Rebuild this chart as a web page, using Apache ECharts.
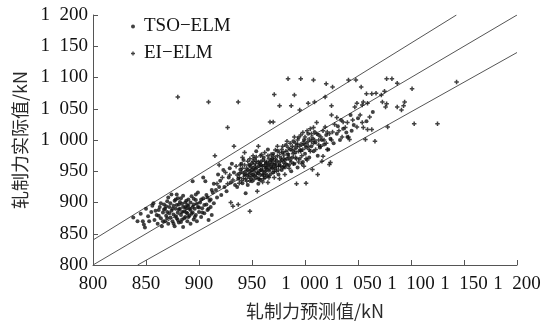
<!DOCTYPE html>
<html>
<head>
<meta charset="utf-8">
<script src="https://cdn.jsdelivr.net/npm/echarts@6/dist/echarts.min.js"></script>
<style>
  html, body { margin: 0; padding: 0; background: #fff; }
  #chart { width: 547px; height: 325px; }
</style>
</head>
<body>
<div id="chart"></div>
<script>
// [predicted, actual] rolling force, kN
const tsoPoints = [
  [838,876],[842,870],[845,882],[847,870],[848,865],[849,860],[850,890],[852,878],[853,870],[855,885],
  [856,895],[857,899],[858,872],[860,880],[861,866],[862,888],[863,893],[864,875],[865,862],[866,884],
  [867,897],[868,870],[868,890],[869,879],[870,885],[870,902],[871,866],[872,893],[873,876],[874,913],
  [874,887],[875,870],[876,895],[876,881],[877,862],[878,890],[878,905],[879,913],[879,875],[880,884],
  [881,897],[881,868],[882,890],[883,880],[883,907],[884,873],[885,893],[885,861],[886,886],[887,900],
  [887,877],[888,891],[889,870],[889,883],[890,905],[890,895],[891,879],[892,888],[892,866],[893,910],
  [894,934],[894,884],[895,897],[895,873],[896,890],[897,904],[897,880],[898,870],[899,893],[899,916],
  [900,885],[901,900],[902,877],[903,891],[904,940],[904,907],[905,883],[906,934],[907,897],[908,908],
  [908,888],[909,872],[910,903],[911,893],[912,880],[913,916],[914,899],
  [859,887],[862,879],[864,899],[866,870],[867,889],[869,894],[870,875],[871,908],[872,883],[873,899],
  [875,890],[876,866],[877,903],[878,878],[879,896],[880,907],[880,872],[881,889],[882,901],[883,869],
  [884,885],[884,898],[885,911],[886,875],[887,893],[888,884],[888,903],[889,896],[890,877],[891,890],
  [892,900],[893,882],[894,893],[895,906],[896,877],[897,913],[898,898],[900,892],[902,905],[903,884],
  [905,896],[907,912],[909,890],[911,905],[912,920],[914,930],[917,908],[919,925],
  [916,920],[918,945],[920,935],[921,912],[923,952],[924,925],[926,918],[928,940],[929,955],[930,932],
  [931,962],[933,948],[934,928],[936,925],[937,938],[938,946],[939,953],[940,962],[941,931],[942,968],
  [943,944],[944,950],[944,915],[946,928],[947,941],[948,951],[949,957],[950,963],[950,934],[951,945],
  [952,970],[953,954],[954,940],[954,982],[956,930],[956,947],[957,959],[958,936],[958,965],[959,953],
  [960,944],[961,972],[962,950],[962,940],[963,962],[964,956],[965,985],[966,943],[966,951],[967,964],
  [968,958],[969,970],[970,948],[970,978],[971,961],[972,955],[973,967],[974,983],[975,945],[976,960],
  [977,972],[978,952],[979,980],[980,964],[981,956],[982,992],[983,970],[984,976],[985,960],[986,985],
  [987,950],[988,972],[989,998],[990,962],[991,980],[992,988],[993,956],[994,1004],[995,970],[996,984],
  [997,993],[998,965],[999,1000],[1000,978],[1001,988],[1002,996],[1003,1010],[1004,972],[1006,990],
  [1007,1003],[1008,982],[1009,1013],[1010,996],[1012,975],[1013,1008],[1014,988],[1016,1000],[1018,993],
  [1020,1008],[1022,985],[1024,1002],[1027,995],[1030,1010],[1033,1000],[1036,1018],[1040,1005],[1044,1015],
  [1031,1022],[1034,1032],[1039,1012],[1043,1040],[1046,1024],[1050,1035],[1058,1030],[1064,1045]
];
const eiPoints = [
  [915,975],[917,930],[919,960],[922,940],[925,948],[927,1020],[927,930],[929,944],[930,900],[932,936],
  [932,894],[933,990],[935,958],[936,944],[937,897],[938,931],[939,960],[940,949],[941,972],[942,938],
  [943,980],[945,934],[945,955],[946,966],[947,945],[948,886],[948,960],[949,938],[950,952],[951,975],
  [952,943],[953,958],[954,966],[955,918],[955,948],[956,990],[957,938],[957,962],[958,952],[959,977],
  [960,958],[960,933],[961,945],[962,966],[963,955],[964,942],[965,975],[965,932],[966,960],[967,1029],
  [968,946],[968,968],[969,955],[970,1029],[970,974],[971,940],[972,962],[973,950],[974,990],[975,958],
  [976,938],[976,1055],[977,966],[978,985],[979,956],[980,970],[981,945],[982,962],[983,998],[984,978],
  [985,955],[986,968],[987,1055],[988,983],[989,962],[990,1005],[991,972],[992,930],[993,993],[994,965],
  [995,1048],[996,982],[997,975],[998,1012],[999,958],[1000,992],[1001,931],[1002,968],[1003,1059],[1004,985],
  [1005,1018],[1006,998],[1007,953],[1008,1020],[1010,985],[1011,1028],[1012,945],[1013,1000],[1015,990],[1016,966],
  [1017,974],[1019,1021],[1021,985],[1021,1013],[1023,961],[1024,964],[1025,1040],[1026,1013],[1028,1025],[1030,1036],
  [1032,1015],[1035,1005],[1036,1029],[1038,1020],[1040,1028],[1041,1005],[1042,1001],[1045,1032],[1047,1053],[1049,1021],
  [1049,1059],[1052,1040],[1054,1028],[1054,1056],[1055,1020],[1055,1061],[1057,1001],[1059,1017],[1059,1059],[1061,1037],
  [1063,1017],[1063,1074],[1066,998],[1067,1075],[1072,1072],[1073,1061],[1075,1078],[1076,1053],[1077,1058],[1077,1098],
  [1078,1021],[1082,1098],[1087,1091],[1087,1053],[1091,1048],[1093,1055],[1094,1061],[1101,1082],[1103,1026],[1125,1026],
  [1143,1093],
  [938,940],[940,935],[941,955],[942,947],[943,960],[944,938],[945,944],[946,952],[947,960],[948,935],
  [948,970],[949,947],[950,942],[951,955],[951,966],[952,937],[952,950],[953,962],[954,945],[954,973],
  [955,956],[956,938],[956,965],[957,950],[958,944],[958,975],[959,960],[960,950],[960,968],[961,938],
  [962,958],[962,980],[963,946],[964,965],[964,952],[965,960],[966,970],[966,940],[967,954],[968,977],
  [969,962],[970,956],[970,966],[971,950],[972,984],[972,970],[973,958],[974,975],[975,964],[975,952],
  [976,980],[977,958],[978,968],[979,990],[980,958],[980,976],[981,968],[982,982],[983,960],[984,988],
  [985,972],[986,995],[987,965],[988,990],[989,978],[990,985],[991,995],[992,970],[993,1000],[994,982],
  [995,990],[996,1008],[997,962],[998,985],[999,995],[1000,1005],[1001,970],[1002,1015],[1003,990],[1004,1000],
  [1005,982],[1006,1010],[1008,995],[1009,1000],[1011,1010],[1013,992],[1015,1005],[1017,1015],[1018,1000],[1020,995],
  [1023,1010],[1025,1000],
  [880,1069],[909,1061],[937,1061],[971,1073],[984,1098],[996,1098],[1008,1096],[1020,1090],[1026,1085],[1041,1096],
  [1048,1096],[990,1072],[1009,1061],[1019,1069],[1025,1055],[1053,1085],[1058,1074]
];
// reference lines: actual = ratio * predicted
const bandRatios = [1.05, 1.0, 0.95];
const axisMin = 800, axisMax = 1200, axisStep = 50;

const chart = echarts.init(document.getElementById('chart'));
const serif = '"Liberation Serif", "Times New Roman", "Noto Serif CJK SC", serif';
const cjk = '"Noto Sans CJK SC", "Liberation Serif", serif';

function bandLine(r) {
  // clip y = r*x to the square axis window
  const x0 = Math.max(axisMin, axisMin / r), x1 = Math.min(axisMax, axisMax / r);
  return [[x0, r * x0], [x1, r * x1]];
}
function thousands(v) {
  return v >= 1000 ? String(v).slice(0, 1) + '\u2002' + String(v).slice(1) : String(v);
}

const axisCommon = {
  type: 'value',
  min: axisMin,
  max: axisMax,
  interval: axisStep,
  nameLocation: 'middle',
  nameTextStyle: { fontFamily: cjk, fontSize: 18, color: '#2a2a2a' },
  axisLine: { lineStyle: { color: '#555', width: 1 } },
  axisTick: { inside: true, length: 5, lineStyle: { color: '#555' } },
  splitLine: { show: false },
  axisLabel: { fontFamily: serif, fontSize: 19, color: '#111', formatter: thousands }
};

chart.setOption({
  animation: false,
  backgroundColor: '#fff',
  grid: { left: 93, right: 30, top: 15, bottom: 59, containLabel: false },
  legend: {
    orient: 'vertical',
    left: 126,
    top: 12,
    itemGap: 8,
    itemWidth: 4,
    itemHeight: 4,
    textStyle: { fontFamily: serif, fontSize: 19, color: '#111', padding: [0, 0, 0, 4] },
    data: [
      { name: 'TSO\u2212ELM', icon: 'circle', itemStyle: { color: '#111' } },
      { name: 'EI\u2212ELM', icon: 'path://M2 0H4V2H6V4H4V6H2V4H0V2H2Z', itemStyle: { color: '#111' } }
    ]
  },
  xAxis: Object.assign({}, axisCommon, {
    name: '轧制力预测值/kN',
    nameGap: 37,
    nameTextStyle: Object.assign({}, axisCommon.nameTextStyle, { padding: [0, 0, 0, 20] }),
    axisLabel: Object.assign({}, axisCommon.axisLabel, { margin: 10 })
  }),
  yAxis: Object.assign({}, axisCommon, {
    name: '轧制力实际值/kN',
    nameGap: 53,
    axisLabel: Object.assign({}, axisCommon.axisLabel, { margin: 5 })
  }),
  series: [
    ...bandRatios.map(r => ({
      type: 'line',
      data: bandLine(r),
      symbol: 'none',
      silent: true,
      lineStyle: { color: '#555', width: 1 },
      z: 1
    })),
    {
      name: 'TSO\u2212ELM',
      type: 'scatter',
      data: tsoPoints,
      symbol: 'circle',
      symbolSize: 4,
      itemStyle: { color: '#111' },
      z: 3
    },
    {
      name: 'EI\u2212ELM',
      type: 'scatter',
      data: eiPoints,
      symbol: 'path://M2 0H4V2H6V4H4V6H2V4H0V2H2Z',
      symbolSize: 4.5,
      itemStyle: { color: '#111' },
      z: 3
    }
  ]
});
</script>
</body>
</html>
